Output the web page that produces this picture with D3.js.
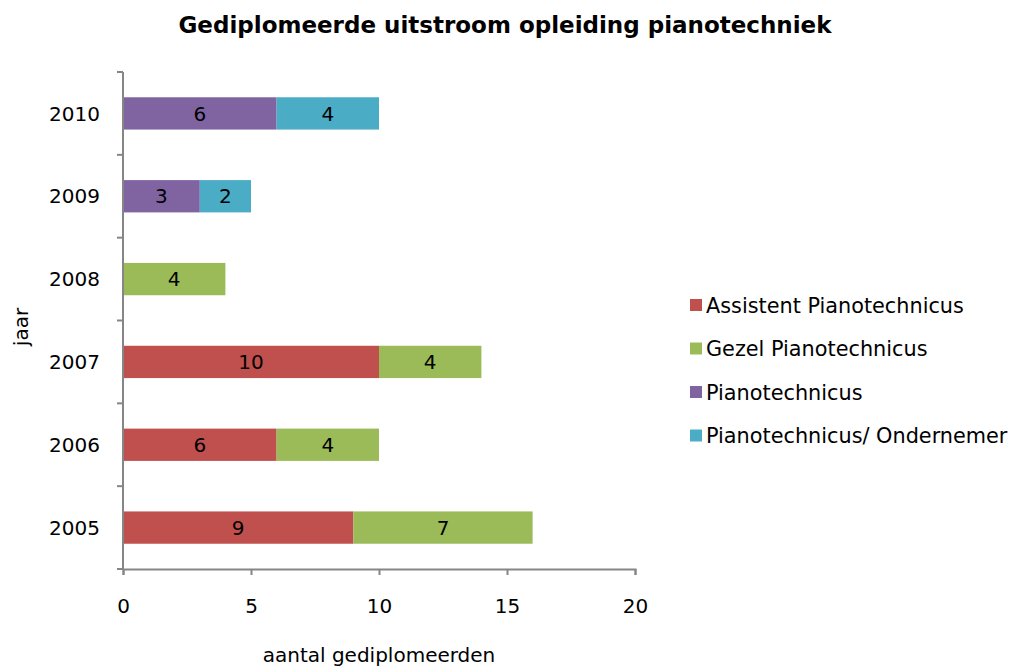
<!DOCTYPE html>
<html>
<head>
<meta charset="utf-8">
<script src="https://cdn.jsdelivr.net/npm/d3@7"></script>
<style>
  body { margin: 0; background: #fff; }
  text { font-family: "DejaVu Sans", sans-serif; fill: #000; }
</style>
</head>
<body>
<div id="chart"></div>
<script>
// Data
var years = ["2005", "2006", "2007", "2008", "2009", "2010"];
var seriesNames = ["Assistent Pianotechnicus", "Gezel Pianotechnicus", "Pianotechnicus", "Pianotechnicus/ Ondernemer"];
var assistent = [9, 6, 10, 0, 0, 0];
var gezel = [7, 4, 4, 4, 0, 0];
var piano = [0, 0, 0, 0, 3, 6];
var ondernemer = [0, 0, 0, 0, 2, 4];
var xTicks = [0, 5, 10, 15, 20];
var colors = ["#C0504D", "#9BBB59", "#8064A2", "#4BACC6"];

var svgWidth = 1015;
var svgHeight = 666;

var chartMargin = { top: 72, left: 123 };
var chartWidth = 512;
var chartHeight = 497;

var svg = d3.select("#chart")
  .append("svg")
  .attr("width", svgWidth)
  .attr("height", svgHeight);

var chartGroup = svg.append("g")
  .attr("transform", `translate(${chartMargin.left}, ${chartMargin.top})`);

// build table for stacking
var table = years.map(function(y, i) {
  return { year: y, s0: assistent[i], s1: gezel[i], s2: piano[i], s3: ondernemer[i] };
});
var stack = d3.stack().keys(["s0", "s1", "s2", "s3"])(table);

var xScale = d3.scaleLinear().domain([0, 20]).range([0, chartWidth]);
var yScale = d3.scaleBand()
  .domain(years.slice().reverse())
  .range([0, chartHeight])
  .paddingInner(0.61)
  .paddingOuter(0.305);

// bars
stack.forEach(function(layer, k) {
  var g = chartGroup.append("g").attr("fill", colors[k]);
  g.selectAll("rect")
    .data(layer.filter(d => d[1] - d[0] > 0))
    .enter()
    .append("rect")
    .attr("x", d => xScale(d[0]))
    .attr("y", d => yScale(d.data.year))
    .attr("width", d => xScale(d[1]) - xScale(d[0]))
    .attr("height", yScale.bandwidth());
  g.selectAll("text")
    .data(layer.filter(d => d[1] - d[0] > 0))
    .enter()
    .append("text")
    .attr("x", d => xScale((d[0] + d[1]) / 2))
    .attr("y", d => yScale(d.data.year) + yScale.bandwidth() / 2)
    .attr("dy", "0.36em")
    .attr("text-anchor", "middle")
    .style("font-size", "20px")
    .text(d => d[1] - d[0]);
});

// axes
var axisColor = "#868686";
var bottomAxis = d3.axisBottom(xScale).tickValues(xTicks).tickSize(6).tickSizeOuter(6).tickPadding(24);
var xg = chartGroup.append("g")
  .attr("transform", `translate(0,${chartHeight})`)
  .call(bottomAxis);
xg.selectAll("path, line").attr("stroke", axisColor).attr("stroke-width", 2);
xg.selectAll("text").style("font-size", "20px").attr("fill", "#000");

// y axis: ticks at band boundaries
var bandStep = chartHeight / years.length;
var yg = chartGroup.append("g");
yg.append("line")
  .attr("x1", 0).attr("x2", 0).attr("y1", 0).attr("y2", chartHeight)
  .attr("stroke", axisColor).attr("stroke-width", 2);
yg.selectAll("line.tick")
  .data(d3.range(years.length + 1))
  .enter()
  .append("line")
  .attr("class", "tick")
  .attr("x1", -6).attr("x2", 0)
  .attr("y1", i => i * bandStep).attr("y2", i => i * bandStep)
  .attr("stroke", axisColor).attr("stroke-width", 2);
yg.selectAll("text")
  .data(years)
  .enter()
  .append("text")
  .attr("x", -23)
  .attr("y", d => yScale(d) + yScale.bandwidth() / 2)
  .attr("dy", "0.36em")
  .attr("text-anchor", "end")
  .style("font-size", "20px")
  .text(d => d);

// titles
svg.append("text")
  .attr("x", 505)
  .attr("y", 33)
  .attr("text-anchor", "middle")
  .style("font-size", "23px")
  .style("font-weight", "bold")
  .text("Gediplomeerde uitstroom opleiding pianotechniek");

svg.append("text")
  .attr("x", 379)
  .attr("y", 662)
  .attr("text-anchor", "middle")
  .style("font-size", "20px")
  .text("aantal gediplomeerden");

svg.append("text")
  .attr("transform", "rotate(-90)")
  .attr("x", -327)
  .attr("y", 28)
  .attr("text-anchor", "middle")
  .style("font-size", "20px")
  .text("jaar");

// legend
var legend = svg.append("g").attr("transform", "translate(690, 305)");
var items = legend.selectAll("g")
  .data(seriesNames)
  .enter()
  .append("g")
  .attr("transform", (d, i) => `translate(0, ${i * 43.5})`);
items.append("rect")
  .attr("x", 0).attr("y", -6)
  .attr("width", 12).attr("height", 12)
  .attr("fill", (d, i) => colors[i]);
items.append("text")
  .attr("x", 16)
  .attr("dy", "0.36em")
  .style("font-size", "20.8px")
  .text(d => d);
</script>
</body>
</html>
